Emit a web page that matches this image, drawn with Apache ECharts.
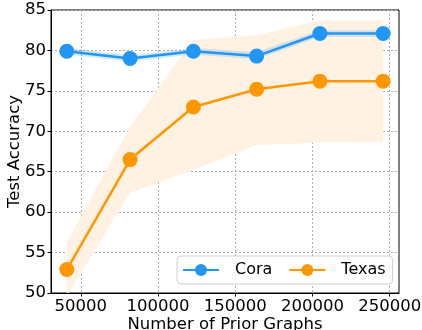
<!DOCTYPE html>
<html><head><meta charset="utf-8">
<script src="https://cdn.jsdelivr.net/npm/echarts@6/dist/echarts.min.js"></script>
<style>html,body{margin:0;padding:0;background:#fff}#c{width:422px;height:330px}</style>
</head><body><div id="c"></div>
<script>
var priorGraphs = [40960, 81920, 122880, 163840, 204800, 245760];
var coraMean = [79.9, 79.0, 79.9, 79.3, 82.1, 82.1];
var coraLow  = [79.5, 78.6, 79.5, 78.9, 81.7, 81.7];
var coraHigh = [80.3, 79.4, 80.3, 79.8, 82.5, 82.5];
var texasMean = [52.9, 66.5, 73.0, 75.2, 76.2, 76.2];
var texasLow  = [49.6, 62.4, 65.2, 68.3, 68.6, 68.7];
var texasHigh = [56.3, 70.6, 81.3, 81.9, 83.7, 83.7];
var xTicks = [50000, 100000, 150000, 200000, 250000];
var yTicks = [50, 55, 60, 65, 70, 75, 80, 85];

var FONT = 'DejaVu Sans';
var CORA = '#2196F3', TEXAS = '#FF9800';

function band(low, high, fill) {
  return {
    type: 'custom', silent: true, clip: true, z: 1,
    data: priorGraphs.map(function (x, i) { return [x, low[i], high[i]]; }),
    renderItem: function (params, api) {
      if (params.dataIndex !== 0) return null;
      var pts = [];
      for (var i = 0; i < priorGraphs.length; i++) pts.push(api.coord([priorGraphs[i], high[i]]));
      for (var j = priorGraphs.length - 1; j >= 0; j--) pts.push(api.coord([priorGraphs[j], low[j]]));
      return { type: 'polygon', shape: { points: pts }, style: { fill: fill } };
    }
  };
}
function line(name, ys, color) {
  return {
    name: name, type: 'line', z: 3,
    data: priorGraphs.map(function (x, i) { return [x, ys[i]]; }),
    symbol: 'circle', symbolSize: 15,
    lineStyle: { color: color, width: 2.5 },
    itemStyle: { color: color },
    emphasis: { disabled: true }
  };
}

var chart = echarts.init(document.getElementById('c'), null, { renderer: 'canvas' });
chart.setOption({
  animation: false,
  textStyle: { fontFamily: FONT },
  grid: { left: 51, top: 10, right: 23, bottom: 37, containLabel: false, outerBoundsMode: 'none', show: true, borderColor: '#000', borderWidth: 1, backgroundColor: 'transparent' },
  legend: {
    data: ['Cora', 'Texas'],
    left: 177, top: 256,
    padding: [6, 7, 6, 5],
    itemWidth: 36, itemHeight: 15, itemGap: 16,
    borderColor: '#d0d0d0', borderWidth: 1, borderRadius: 4,
    backgroundColor: 'rgba(255,255,255,0.85)',
    textStyle: { fontFamily: FONT, fontSize: 16, color: '#000', padding: [0, 0, 0, 11] }
  },
  xAxis: {
    type: 'value', min: 30720, max: 256000,
    name: 'Number of Prior Graphs', nameLocation: 'middle', nameGap: 23, nameMoveOverlap: false,
    nameTextStyle: { fontFamily: FONT, fontSize: 16.5, color: '#000', verticalAlign: 'top' },
    axisLine: { show: true, lineStyle: { color: '#000', width: 1 } },
    axisTick: { show: true, length: 3.5, lineStyle: { color: '#000' }, customValues: xTicks },
    axisLabel: { customValues: xTicks, fontFamily: FONT, fontSize: 16.5, color: '#000', margin: 5, formatter: function (v) { return String(v); } },
    splitLine: { show: true, lineStyle: { color: '#b0b0b0', type: [2, 2], width: 1 } }
  },
  yAxis: {
    type: 'value', min: 50, max: 85, interval: 5,
    name: 'Test Accuracy', nameLocation: 'middle', nameGap: 28, nameMoveOverlap: false,
    nameTextStyle: { fontFamily: FONT, fontSize: 16.5, color: '#000' },
    axisLine: { show: true, lineStyle: { color: '#000', width: 1 } },
    axisTick: { show: true, length: 3.5, lineStyle: { color: '#000' } },
    axisLabel: { fontFamily: FONT, fontSize: 16.5, color: '#000', margin: 5 },
    splitLine: { show: true, lineStyle: { color: '#b0b0b0', type: [2, 2], width: 1 } }
  },
  series: [
    band(texasLow, texasHigh, '#FFF2E3'),
    band(coraLow, coraHigh, 'rgba(33,150,243,0.2)'),
    line('Cora', coraMean, CORA),
    line('Texas', texasMean, TEXAS)
  ]
});
</script></body></html>
